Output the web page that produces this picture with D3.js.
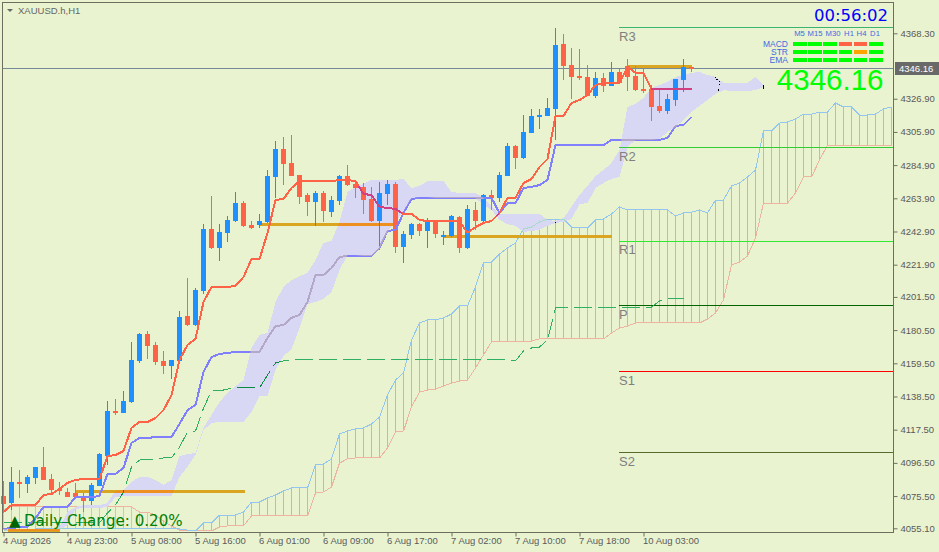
<!DOCTYPE html>
<html>
<head>
<meta charset="utf-8">
<title>XAUUSD.h,H1</title>
<script src="https://cdnjs.cloudflare.com/ajax/libs/d3/7.8.5/d3.min.js"></script>
<style>
html, body { margin: 0; padding: 0; background: #e9f3d0; overflow: hidden; }
svg { display: block; }
text { font-family: "Liberation Sans", Arial, sans-serif; }
</style>
</head>
<body>
<svg id="chart" width="939" height="552"></svg>
<script>
// candles, one per hour
var opens = [4075.5,4071.1,4084.4,4083.1,4086.9,4093.9,4086.3,4080.0,4078.1,4077.4,4075.5,4072.4,4081.9,4100.8,4129.3,4128.1,4135.0,4161.0,4178.0,4171.1,4161.0,4157.8,4161.0,4189.4,4183.7,4205.3,4244.5,4232.5,4241.9,4249.5,4260.9,4247.0,4247.0,4248.9,4277.4,4295.1,4286.2,4278.6,4266.0,4261.6,4267.3,4255.3,4262.2,4278.0,4273.0,4271.1,4263.5,4249.5,4266.6,4273.0,4233.1,4240.7,4247.6,4243.2,4248.9,4239.4,4240.0,4252.1,4232.5,4256.5,4249.5,4266.0,4264.1,4278.0,4297.0,4289.4,4305.2,4315.3,4316.0,4320.4,4361.5,4348.2,4341.3,4340.6,4328.6,4340.0,4335.0,4343.8,4347.6,4341.3,4333.1,4333.1,4322.3,4319.1,4326.1,4338.8,4347.0];
var highs = [4085.0,4093.9,4092.0,4088.8,4093.9,4106.5,4089.5,4084.4,4080.6,4083.8,4077.4,4083.8,4102.7,4135.6,4136.9,4142.0,4173.0,4178.7,4180.0,4173.0,4167.3,4161.6,4192.6,4213.5,4207.2,4247.6,4265.4,4247.6,4252.7,4267.9,4262.2,4249.5,4254.0,4281.8,4300.2,4302.7,4304.0,4278.6,4267.3,4268.5,4268.5,4265.4,4278.6,4285.0,4275.5,4273.6,4271.1,4274.2,4275.5,4274.2,4243.2,4248.3,4248.3,4251.4,4250.2,4243.2,4253.3,4252.7,4259.7,4261.6,4266.6,4269.2,4280.5,4298.9,4297.6,4316.6,4320.4,4320.4,4327.4,4371.7,4367.9,4359.0,4358.4,4348.2,4343.8,4343.2,4350.1,4345.7,4352.0,4347.6,4345.7,4335.6,4332.4,4329.9,4339.4,4352.0,4347.0];
var lows = [4064.8,4066.7,4074.3,4077.4,4083.1,4085.7,4077.4,4076.2,4074.9,4074.3,4065.4,4069.8,4081.9,4095.2,4126.8,4128.1,4134.4,4159.7,4162.2,4158.4,4152.7,4149.6,4161.0,4183.1,4183.1,4203.4,4231.8,4224.2,4236.3,4248.9,4245.7,4244.5,4245.1,4248.3,4264.1,4272.3,4278.0,4260.3,4252.7,4246.4,4248.9,4252.1,4259.7,4271.7,4264.1,4254.0,4248.9,4231.2,4259.7,4229.3,4223.0,4238.2,4240.0,4232.5,4238.8,4234.4,4239.4,4229.3,4231.8,4243.9,4248.9,4256.5,4261.6,4278.0,4282.4,4288.8,4305.2,4307.8,4316.0,4300.8,4338.8,4326.7,4338.8,4328.6,4327.4,4331.2,4335.0,4336.9,4331.8,4331.8,4330.5,4312.8,4317.9,4317.2,4322.3,4331.2,4343.8];
var closes = [4070.5,4084.4,4083.1,4087.6,4093.9,4085.7,4079.3,4079.3,4074.9,4074.9,4072.4,4082.5,4102.1,4129.3,4128.1,4135.6,4161.6,4178.0,4170.4,4160.3,4157.8,4161.6,4188.8,4183.7,4205.9,4244.5,4232.5,4242.6,4250.2,4260.9,4246.4,4245.1,4249.5,4278.0,4295.1,4285.6,4278.0,4264.7,4261.6,4267.3,4255.9,4262.8,4278.0,4272.3,4270.4,4262.8,4249.5,4267.3,4273.0,4233.1,4241.3,4247.6,4243.2,4248.9,4241.3,4240.7,4252.7,4232.5,4257.1,4249.5,4266.0,4264.1,4278.6,4297.0,4289.4,4305.9,4316.0,4316.6,4321.0,4360.9,4347.6,4340.6,4340.0,4328.6,4340.0,4335.0,4343.8,4336.9,4340.6,4332.4,4331.8,4321.7,4319.1,4326.7,4339.4,4347.0,4346.16];

// H1 ichimoku
var tenkan = [4065.4,4069.8,4069.8,4069.8,4069.8,4076.2,4076.8,4080.0,4083.8,4085.7,4086.3,4086.3,4086.3,4100.8,4101.5,4104.0,4118.6,4122.4,4122.4,4124.9,4129.9,4139.4,4161.6,4171.1,4174.9,4198.3,4207.8,4207.8,4207.8,4208.4,4214.1,4225.5,4225.5,4242.0,4262.8,4263.5,4270.4,4274.8,4274.8,4274.8,4274.8,4274.8,4275.5,4275.5,4274.8,4266.6,4266.0,4258.4,4257.8,4257.1,4254.0,4254.0,4250.2,4249.5,4249.5,4249.5,4249.5,4249.5,4242.0,4245.7,4248.3,4249.5,4254.6,4264.1,4264.1,4273.6,4276.1,4283.7,4288.8,4316.0,4316.0,4324.2,4326.1,4329.3,4335.6,4336.9,4336.9,4336.9,4347.0,4343.2,4343.2,4333.1,4333.1,4333.1,4333.1,4333.1,4333.1];
var kijun = [4054.7,4055.3,4055.9,4055.9,4061.6,4068.6,4068.6,4068.6,4068.6,4074.9,4074.9,4074.9,4075.5,4089.5,4089.5,4093.3,4109.1,4112.2,4112.2,4112.9,4112.9,4112.9,4121.1,4129.9,4133.1,4154.0,4163.5,4165.4,4166.0,4166.7,4166.7,4166.7,4166.7,4175.5,4183.1,4183.7,4188.2,4190.1,4198.3,4215.4,4215.4,4219.8,4226.8,4227.4,4227.4,4227.4,4227.4,4232.5,4243.2,4243.9,4254.6,4263.5,4264.1,4264.1,4264.1,4264.1,4264.1,4264.1,4264.1,4264.1,4264.1,4264.1,4254.6,4260.9,4260.9,4270.4,4271.1,4272.3,4275.5,4297.6,4297.6,4297.6,4297.6,4297.6,4297.6,4297.6,4300.8,4300.8,4300.8,4300.8,4300.8,4300.8,4300.8,4302.1,4309.7,4310.3,4315.3];
var cloudTop = [4054.7,4054.7,4054.7,4054.7,4054.7,4054.7,4054.0,4055.9,4065.4,4068.6,4069.8,4069.8,4069.8,4071.1,4078.7,4079.3,4084.4,4087.6,4087.6,4085.7,4082.5,4085.7,4100.8,4102.1,4102.7,4118.6,4126.8,4135.0,4140.7,4145.1,4148.9,4169.2,4177.4,4178.7,4198.3,4207.8,4212.2,4214.7,4216.6,4224.9,4235.6,4236.9,4248.9,4267.9,4271.1,4273.0,4275.5,4275.5,4275.5,4275.5,4276.1,4270.4,4271.7,4274.8,4274.8,4274.8,4267.9,4267.3,4267.3,4267.3,4264.1,4259.0,4254.0,4254.0,4254.0,4254.0,4254.0,4254.0,4250.2,4249.5,4251.4,4258.4,4266.0,4271.7,4278.0,4281.8,4286.2,4294.5,4321.7,4323.6,4327.4,4333.7,4335.6,4337.5,4340.7,4341.9,4343.2,4343.8,4341.9,4340.7,4336.9,4336.9,4336.9,4336.9,4340.7,4335.6];
var cloudBottom = [4053.4,4053.4,4053.4,4053.4,4053.4,4053.4,4053.4,4053.4,4057.2,4067.3,4068.0,4068.0,4068.0,4068.6,4074.9,4075.5,4075.5,4075.5,4075.5,4075.5,4075.5,4075.5,4087.6,4093.9,4101.5,4117.3,4121.7,4122.4,4122.4,4122.4,4122.4,4128.7,4138.8,4138.8,4155.3,4164.1,4168.5,4181.8,4197.0,4198.3,4200.2,4204.6,4218.5,4228.0,4228.0,4227.4,4227.4,4231.8,4242.6,4248.9,4255.9,4264.1,4264.7,4264.7,4264.1,4264.1,4264.1,4264.1,4264.1,4264.1,4259.7,4256.5,4250.2,4247.6,4246.4,4242.6,4243.2,4243.9,4246.4,4248.3,4248.9,4250.8,4260.3,4260.9,4270.4,4273.6,4276.1,4277.4,4296.4,4300.8,4300.8,4300.8,4301.4,4305.9,4309.0,4313.5,4318.5,4322.3,4326.1,4329.9,4332.4,4331.8,4331.8,4331.8,4332.4,4334.3];

// higher timeframe ichimoku, hatched
var chikou = [4058.5,4058.5,4058.5,4058.5,4058.5,4058.5,4058.5,4058.5,4058.5,4058.5,4058.5,4058.5,4058.5,4064.8,4069.8,4078.1,4093.9,4098.3,4098.9,4098.9,4099.6,4099.6,4106.5,4116.0,4116.7,4131.2,4142.0,4142.0,4143.2,4143.9,4143.9,4143.9,4143.9,4152.1,4159.7,4161.0,4161.6,4161.6,4161.6,4161.6,4161.6,4161.6,4161.6,4161.6,4161.6,4161.6,4161.6,4161.6,4161.6,4161.6,4161.6,4161.6,4161.6,4161.6,4161.6,4161.6,4161.6,4161.6,4161.6,4161.6,4161.6,4161.6,4161.6,4161.6,4161.0,4167.3,4169.2,4169.8,4174.2,4194.5,4195.1,4195.1,4195.1,4195.1,4195.1,4195.1,4195.1,4195.1,4195.1,4195.1,4195.1,4195.1,4198.9,4200.8,4200.8,4200.8];
var spanA = [4054.0,4054.0,4054.0,4054.0,4054.7,4054.7,4054.7,4054.7,4054.7,4054.7,4054.7,4054.7,4054.7,4054.7,4054.7,4054.7,4054.7,4054.7,4054.7,4054.7,4054.7,4054.7,4054.7,4054.0,4053.4,4058.5,4058.5,4063.5,4063.5,4063.5,4065.4,4071.7,4071.7,4074.3,4076.2,4078.7,4080.6,4080.6,4080.6,4095.2,4095.8,4099.0,4114.8,4116.7,4118.0,4118.6,4121.1,4125.5,4139.4,4148.9,4153.4,4174.2,4185.0,4186.9,4186.9,4188.2,4190.7,4195.8,4195.8,4207.8,4223.0,4223.6,4228.7,4232.5,4235.6,4244.5,4245.7,4248.9,4250.8,4250.8,4250.8,4245.7,4245.7,4245.1,4250.2,4250.8,4254.0,4258.4,4256.5,4256.5,4256.5,4256.5,4256.5,4256.5,4252.7,4254.6,4255.2,4256.5,4254.6,4262.8,4262.8,4271.7,4273.6,4277.4,4281.8,4306.5,4306.5,4311.5,4312.2,4314.1,4317.2,4317.2,4318.5,4318.5,4324.2,4321.7,4321.7,4316.6,4316.6,4317.2,4320.4,4321.7];
var spanB = [4066.7,4069.2,4069.2,4069.2,4069.2,4069.2,4069.2,4069.2,4069.2,4069.2,4069.2,4069.2,4069.2,4069.2,4069.2,4069.2,4068.6,4065.4,4065.4,4063.5,4059.7,4056.6,4054.0,4053.4,4053.4,4053.4,4053.4,4055.9,4056.6,4056.6,4056.6,4062.9,4062.9,4062.9,4062.9,4062.9,4062.9,4062.9,4062.9,4077.4,4078.1,4081.2,4096.4,4099.0,4099.6,4099.6,4099.6,4099.6,4105.9,4116.0,4116.7,4131.9,4141.3,4142.6,4143.2,4145.1,4147.0,4148.3,4148.9,4156.5,4164.8,4173.0,4173.0,4173.0,4173.0,4173.0,4173.6,4174.9,4174.9,4174.9,4174.9,4174.9,4174.9,4174.9,4174.9,4174.9,4178.7,4181.8,4183.1,4185.0,4185.0,4185.0,4185.0,4185.0,4185.0,4185.0,4185.0,4185.0,4187.5,4191.3,4199.6,4221.7,4223.6,4227.4,4238.8,4260.9,4260.9,4260.9,4260.9,4267.3,4277.4,4277.4,4288.1,4297.6,4297.6,4297.6,4297.6,4297.6,4297.6,4297.6,4297.6,4297.6];

// daily high / low trendlines: from bar, to bar, price
var goldFrom = [0.5, 9, 32, 55, 78];
var goldTo = [7, 30.2, 49, 76, 86];
var goldPrice = [4053.9, 4078.1, 4247.6, 4240.0, 4347.0];

// pivots
var pivotNames = ["R3", "R2", "R1", "P", "S1", "S2"];
var pivotPrices = [4371.7, 4296.0, 4236.6, 4195.8, 4154.0, 4102.8];
var pivotColors = ["#3cb371", "#32cd32", "#32e632", "#006400", "#ff0000", "#556b2f"];

var lastPrice = 4346.16;
var priceTicks = [4368.30,4326.90,4305.90,4284.90,4263.90,4242.90,4221.90,4201.50,4180.50,4159.50,4138.50,4117.50,4096.50,4075.50,4055.10];
var timeTicks = [0,8,16,24,32,40,48,56,64,72,80];
var timeLabels = ["4 Aug 2026","4 Aug 23:00","5 Aug 08:00","5 Aug 16:00","6 Aug 01:00","6 Aug 09:00","6 Aug 17:00","7 Aug 02:00","7 Aug 10:00","7 Aug 18:00","10 Aug 03:00"];

// signal panel
var periods = ["M5","M15","M30","H1","H4","D1"];
var signalNames = ["MACD","STR","EMA"];
var macdSignal = ["up","up","up","down","down","up"];
var strSignal = ["up","up","up","up","flat","up"];
var emaSignal = ["up","up","up","up","up","up"];

var markBars = [88.9, 89.6, 89.3];
var markPrices = [4340.7, 4336.9, 4331.8];

var svg = d3.select("#chart");
var x = d3.scaleLinear().domain([0, 111]).range([3.5, 891.5]);
var y = d3.scaleLinear().domain([4055.1, 4368.3]).range([528.3, 33.3]);

function snap(v) { return Math.round(v - 0.5) + 0.5; }

svg.append("rect").attr("width", 939).attr("height", 552).attr("fill", "#e9f3d0");

// hatched cloud
var hatch = svg.append("g").attr("shape-rendering", "crispEdges");
spanA.forEach(function (a, i) {
  hatch.append("line")
    .attr("x1", x(i)).attr("x2", x(i))
    .attr("y1", y(a)).attr("y2", y(spanB[i]))
    .attr("stroke", a >= spanB[i] ? "#93c6ee" : "#efb9a4")
    .attr("stroke-width", 1);
});

function lineOf(values) {
  return d3.line().x(function (d, i) { return x(i); }).y(function (d) { return y(d); })(values);
}

// H1 cloud
var cloudPath = d3.area()
  .x(function (d, i) { return x(i); })
  .y0(function (d, i) { return y(cloudBottom[i]); })
  .y1(function (d) { return y(d); })(cloudTop);

svg.append("clipPath").attr("id", "inCloud").append("path").attr("d", cloudPath);

// MT4 draws without antialiasing, so everything stays crisp here too
function tintedLine(parent, d, color, tint, width, dash) {
  var plain = parent.append("path").attr("d", d).attr("fill", "none")
    .attr("stroke", color).attr("stroke-width", width).attr("shape-rendering", "crispEdges");
  var inside = parent.append("path").attr("d", d).attr("fill", "none")
    .attr("stroke", tint).attr("stroke-width", width).attr("shape-rendering", "crispEdges")
    .attr("clip-path", "url(#inCloud)");
  if (dash) { plain.attr("stroke-dasharray", dash); inside.attr("stroke-dasharray", dash); }
}

tintedLine(svg, lineOf(spanB), "#efb4a0", "#efb4a0", 1);
svg.append("path").attr("d", cloudPath).attr("fill", "#d8d8f4").attr("shape-rendering", "crispEdges");
tintedLine(svg, lineOf(spanA), "#93c6ee", "#a4dcc4", 1);

// pivots
var pivots = svg.append("g");
pivotPrices.forEach(function (p, i) {
  pivots.append("line")
    .attr("x1", 619).attr("x2", 893)
    .attr("y1", snap(y(p))).attr("y2", snap(y(p)))
    .attr("stroke", pivotColors[i])
    .attr("shape-rendering", "crispEdges");
  pivots.append("text")
    .attr("x", 619).attr("y", y(p) + 13)
    .attr("font-size", 13).attr("fill", "#808080")
    .text(pivotNames[i]);
});

// current price line
svg.append("line").attr("x1", 2).attr("x2", 893)
  .attr("y1", snap(y(lastPrice))).attr("y2", snap(y(lastPrice)))
  .attr("stroke", "#778899").attr("shape-rendering", "crispEdges");

// gold trendlines
goldPrice.forEach(function (p, i) {
  var d = d3.line()([[x(goldFrom[i]), snap(y(p))], [x(goldTo[i]), snap(y(p))]]);
  tintedLine(svg, d, "#daa520", "#ee9020", 3);
});

// candles
var candles = svg.append("g").attr("shape-rendering", "crispEdges");
opens.forEach(function (o, i) {
  var c = closes[i];
  var col = c >= o ? "#1e90ff" : "#ff6347";
  var top = Math.round(y(Math.max(o, c)));
  var bot = Math.round(y(Math.min(o, c)));
  candles.append("line")
    .attr("x1", x(i)).attr("x2", x(i))
    .attr("y1", y(highs[i])).attr("y2", y(lows[i]))
    .attr("stroke", col);
  candles.append("rect")
    .attr("x", x(i) - 2.5).attr("y", top)
    .attr("width", 5).attr("height", Math.max(bot - top, 2))
    .attr("fill", col);
});

// ichimoku lines
tintedLine(svg, lineOf(chikou), "#2eb060", "#0a8a40", 1, "18,6");
tintedLine(svg, lineOf(kijun), "#8080ff", "#b4a8c8", 2);
tintedLine(svg, lineOf(tenkan), "#ff6347", "#d04080", 2);

// small black marks at the cloud end
svg.append("path")
  .attr("d", d3.line()
    .x(function (d, i) { return x(d); })
    .y(function (d, i) { return y(markPrices[i]); })(markBars))
  .attr("fill", "none").attr("stroke", "#000").attr("stroke-dasharray", "1,2")
  .attr("shape-rendering", "crispEdges");
svg.append("line").attr("x1", x(95)).attr("x2", x(95))
  .attr("y1", y(cloudTop[95])).attr("y2", y(cloudBottom[95]) + 2)
  .attr("stroke", "#000").attr("shape-rendering", "crispEdges");
svg.append("rect").attr("x", x(69) - 0.5).attr("y", y(cloudBottom[70]))
  .attr("width", 1).attr("height", 1).attr("fill", "#000");

// frame
svg.append("rect").attr("x", 2.5).attr("y", 2.5).attr("width", 891).attr("height", 530)
  .attr("fill", "none").attr("stroke", "#6e6e60").attr("shape-rendering", "crispEdges");

// axes
var yAxis = d3.axisRight(y).tickValues(priceTicks).tickFormat(d3.format(".2f")).tickSize(4).tickPadding(3);
var yG = svg.append("g").attr("transform", "translate(893.5,0)").call(yAxis);
var xAxis = d3.axisBottom(x).tickValues(timeTicks)
  .tickFormat(function (d, i) { return timeLabels[i]; }).tickSize(4).tickPadding(0.5);
var xG = svg.append("g").attr("transform", "translate(0,532.5)").call(xAxis);

[yG, xG].forEach(function (g) {
  g.select(".domain").remove();
  g.selectAll("line").attr("stroke", "#6e6e60");
  g.selectAll("text").attr("fill", "#5a5a5a").attr("font-size", 9.5)
    .attr("font-family", "Liberation Sans");
});
xG.selectAll("text").attr("text-anchor", "start").attr("dx", -1);

// last price tag
svg.append("rect").attr("x", 895).attr("y", 62).attr("width", 44).attr("height", 13).attr("fill", "#696969");
svg.append("text").attr("x", 899).attr("y", y(lastPrice) + 3.5)
  .attr("font-size", 9.5).attr("fill", "#fff").text(d3.format(".2f")(lastPrice));

// symbol caption
svg.append("path").attr("d", "M7,9L13,9L10,12Z").attr("fill", "#666");
svg.append("text").attr("x", 18).attr("y", 14).attr("font-size", 9.5).attr("fill", "#666").text("XAUUSD.h,H1");

// countdown and big price
svg.append("text").attr("x", 888).attr("y", 21).attr("text-anchor", "end")
  .attr("font-size", 16.5).attr("fill", "#0000ff")
  .style("font-family", "DejaVu Sans").text("00:56:02");
svg.append("text").attr("x", 883.5).attr("y", 90).attr("text-anchor", "end")
  .attr("font-size", 29.5).attr("fill", "#00ff00").text(d3.format(".2f")(lastPrice));

// signal panel
var colX = d3.scaleBand().domain(periods).range([793, 882.5]).paddingInner(0.11);
var rowY = d3.scaleBand().domain(signalNames).range([42, 62]).paddingInner(0.5);
var headerX = d3.scaleOrdinal().domain(periods).range([799.5, 815, 833, 849, 861.5, 875]);
var signalColor = { up: "#00ff00", down: "#ff6347", flat: "#ffa500" };
var panel = svg.append("g").attr("shape-rendering", "crispEdges");
periods.forEach(function (p) {
  svg.append("text").attr("x", headerX(p)).attr("y", 36)
    .attr("text-anchor", "middle").attr("font-size", 7.7).attr("fill", "#4169e1").text(p);
});
[macdSignal, strSignal, emaSignal].forEach(function (row, r) {
  svg.append("text").attr("x", 788).attr("y", rowY(signalNames[r]) + 4.5)
    .attr("text-anchor", "end").attr("font-size", 8.5).attr("fill", "#4169e1").text(signalNames[r]);
  row.forEach(function (s, c) {
    panel.append("rect")
      .attr("x", colX(periods[c])).attr("y", rowY(signalNames[r]))
      .attr("width", colX.bandwidth()).attr("height", rowY.bandwidth())
      .attr("fill", signalColor[s]);
  });
});

// daily change
svg.append("text").attr("x", 9).attr("y", 526).attr("font-size", 15).attr("fill", "#006400")
  .style("font-family", "DejaVu Sans").text("▲");
svg.append("text").attr("x", 24).attr("y", 526).attr("font-size", 15.1).attr("fill", "#008000")
  .style("font-family", "DejaVu Sans").text("Daily Change: 0.20%");
</script>
</body>
</html>
